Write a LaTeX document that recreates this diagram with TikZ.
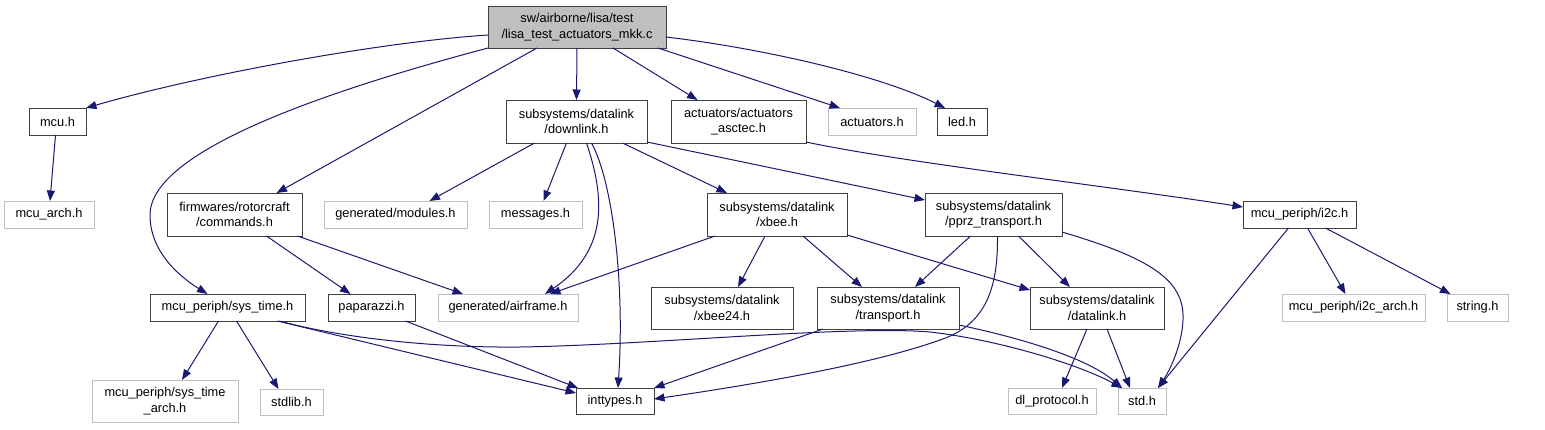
\documentclass[tikz,border=0pt]{standalone}
\usepackage{fontspec}
\setmainfont{Liberation Sans}
\usetikzlibrary{arrows.meta}
\definecolor{edgec}{HTML}{191970}
\definecolor{grayb}{HTML}{BFBFBF}
\definecolor{boxb}{HTML}{404040}
\begin{document}
\begin{tikzpicture}[x=1pt,y=-1pt,
  every node/.style={inner sep=0pt,outer sep=0pt,align=center,font=\fontsize{12.8}{15.5}\selectfont},
  fbox/.style={draw=boxb,line width=1pt,fill=white,rectangle},
  gbox/.style={draw=grayb,line width=1pt,fill=white,rectangle},
  rbox/.style={draw=boxb,line width=1pt,fill=grayb,rectangle},
  sz/.style 2 args={minimum width=#1pt,minimum height=#2pt},
  edge/.style={draw=edgec,line width=1pt,-{Triangle[length=10.5pt,width=8pt]},fill=none}]
\useasboundingbox (0,0) rectangle (1545,429);
% nodes
\node[rbox,sz={178}{42}] (root) at (577,27) {sw/airborne/lisa/test\\/lisa\_test\_actuators\_mkk.c};
\node[fbox,sz={57}{27}] (mcu) at (57.5,121.5) {mcu.h};
\node[gbox,sz={90}{27}] (mcuarch) at (49,214.5) {mcu\_arch.h};
\node[fbox,sz={135}{43}] (commands) at (234.5,214.5) {firmwares/rotorcraft\\/commands.h};
\node[gbox,sz={143}{27}] (modules) at (395.5,214.5) {generated/modules.h};
\node[gbox,sz={93}{27}] (messages) at (535.5,214.5) {messages.h};
\node[fbox,sz={141}{43}] (downlink) at (576.5,121.5) {subsystems/datalink\\/downlink.h};
\node[fbox,sz={135}{43}] (asctec) at (738.5,121.5) {actuators/actuators\\\_asctec.h};
\node[gbox,sz={88}{27}] (actuators) at (872,121.5) {actuators.h};
\node[fbox,sz={50}{27}] (led) at (962,121.5) {led.h};
\node[fbox,sz={140}{43}] (xbee) at (777,214.5) {subsystems/datalink\\/xbee.h};
\node[fbox,sz={137}{43}] (pprz) at (993.5,214.5) {subsystems/datalink\\/pprz\_transport.h};
\node[fbox,sz={113}{27}] (i2c) at (1299.5,214.5) {mcu\_periph/i2c.h};
\node[gbox,sz={140}{27}] (airframe) at (508,307.5) {generated/airframe.h};
\node[fbox,sz={155}{27}] (systime) at (227.5,307.5) {mcu\_periph/sys\_time.h};
\node[fbox,sz={87}{27}] (paparazzi) at (371.5,307.5) {paparazzi.h};
\node[fbox,sz={142}{42}] (xbee24) at (722,308) {subsystems/datalink\\/xbee24.h};
\node[fbox,sz={142}{42}] (transport) at (888,308) {subsystems/datalink\\/transport.h};
\node[fbox,sz={134}{42}] (datalink) at (1097,308) {subsystems/datalink\\/datalink.h};
\node[gbox,sz={143}{27}] (i2carch) at (1353.5,307.5) {mcu\_periph/i2c\_arch.h};
\node[gbox,sz={61}{27}] (string) at (1477.5,307.5) {string.h};
\node[gbox,sz={146}{42}] (systimearch) at (165,401) {mcu\_periph/sys\_time\\\_arch.h};
\node[gbox,sz={63}{26}] (stdlib) at (291.5,402) {stdlib.h};
\node[fbox,sz={78}{26}] (inttypes) at (615,401) {inttypes.h};
\node[gbox,sz={88}{26}] (dlprotocol) at (1052,401) {dl\_protocol.h};
\node[gbox,sz={48}{26}] (std) at (1142,401) {std.h};
% edges
\path[edge] ([yshift=-8pt]root.west) .. controls (380,42) and (200,75) .. (mcu.north east);
\path[edge] ([xshift=-40pt]root.south) -- ([xshift=42pt]commands.north);
\path[edge] (root.south west) .. controls (330,90) and (150,150) .. (150,215) .. controls (150,255) and (185,280) .. ([xshift=-20pt]systime.north);
\path[edge] (root.south) -- (downlink.north);
\path[edge] ([xshift=36pt]root.south) -- ([xshift=-41pt]asctec.north);
\path[edge] ([xshift=81pt]root.south) -- ([xshift=-32pt]actuators.north);
\path[edge] ([yshift=-10pt]root.east) .. controls (760,48) and (880,75) .. ([xshift=-17pt]led.north);
\path[edge] ([xshift=-2pt]mcu.south) -- ([xshift=1pt]mcuarch.north);
\path[edge] ([xshift=32pt]commands.south) -- ([xshift=-21pt]paparazzi.north);
\path[edge] ([xshift=63pt]commands.south) -- ([xshift=-45pt]airframe.north);
\path[edge] ([xshift=-42pt]downlink.south) -- ([xshift=34pt]modules.north);
\path[edge] ([xshift=-10pt]downlink.south) -- ([xshift=8pt]messages.north);
\path[edge] ([xshift=10pt]downlink.south) .. controls (604,195) and (610,250) .. ([xshift=37pt]airframe.north);
\path[edge] ([xshift=15pt]downlink.south) .. controls (612,180) and (625,280) .. ([xshift=3pt]inttypes.north);
\path[edge] ([xshift=46pt]downlink.south) -- ([xshift=-50pt]xbee.north);
\path[edge] ([yshift=1pt]downlink.south east) -- ([yshift=-7pt]pprz.north west);
\path[edge] ([yshift=1pt]asctec.south east) .. controls (900,162) and (1100,185) .. ([yshift=7.5pt]i2c.west);
\path[edge] ([xshift=-62pt]xbee.south) -- ([xshift=42pt]airframe.north);
\path[edge] ([xshift=-12pt]xbee.south) -- ([xshift=16pt]xbee24.north);
\path[edge] ([xshift=26pt]xbee.south) -- ([xshift=-26pt]transport.north);
\path[edge] ([yshift=1pt]xbee.south east) -- ([yshift=-3pt]datalink.north west);
\path[edge] ([xshift=-23pt]pprz.south) -- ([xshift=27pt]transport.north);
\path[edge] ([xshift=25pt]pprz.south) -- ([xshift=-27pt]datalink.north);
\path[edge] ([xshift=4pt]pprz.south) .. controls (998,290) and (985,325) .. (940,340) .. controls (870,365) and (750,385) .. ([yshift=2pt]inttypes.east);
\path[edge] ([yshift=4pt]pprz.south east) .. controls (1150,258) and (1185,280) .. (1183,320) .. controls (1182,345) and (1170,370) .. ([xshift=16pt]std.north);
\path[edge] ([xshift=-11pt]i2c.south) -- ([xshift=16pt]std.north);
\path[edge] ([xshift=8pt]i2c.south) -- ([xshift=-8pt]i2carch.north);
\path[edge] ([xshift=26pt]i2c.south) -- ([xshift=-27pt]string.north);
\path[edge] ([xshift=-9pt]systime.south) -- ([xshift=17pt]systimearch.north);
\path[edge] ([xshift=9pt]systime.south) -- ([xshift=-13pt]stdlib.north);
\path[edge] ([xshift=50pt]systime.south) -- ([yshift=8pt]inttypes.west);
\path[edge] ([xshift=52pt]systime.south) .. controls (330,335) and (420,348) .. (520,347) .. controls (650,345) and (850,325) .. (930,332) .. controls (1000,340) and (1080,365) .. ([xshift=-20pt]std.north);
\path[edge] ([xshift=34pt]paparazzi.south) -- ([xshift=2pt]inttypes.north west);
\path[edge] ([xshift=-65pt]transport.south) -- (inttypes.north east);
\path[edge] ([yshift=4pt]transport.south east) .. controls (1030,340) and (1090,360) .. ([xshift=-20pt]std.north);
\path[edge] ([xshift=-10pt]datalink.south) -- ([xshift=10pt]dlprotocol.north);
\path[edge] ([xshift=10pt]datalink.south) -- ([xshift=-12pt]std.north);
\end{tikzpicture}
\end{document}
